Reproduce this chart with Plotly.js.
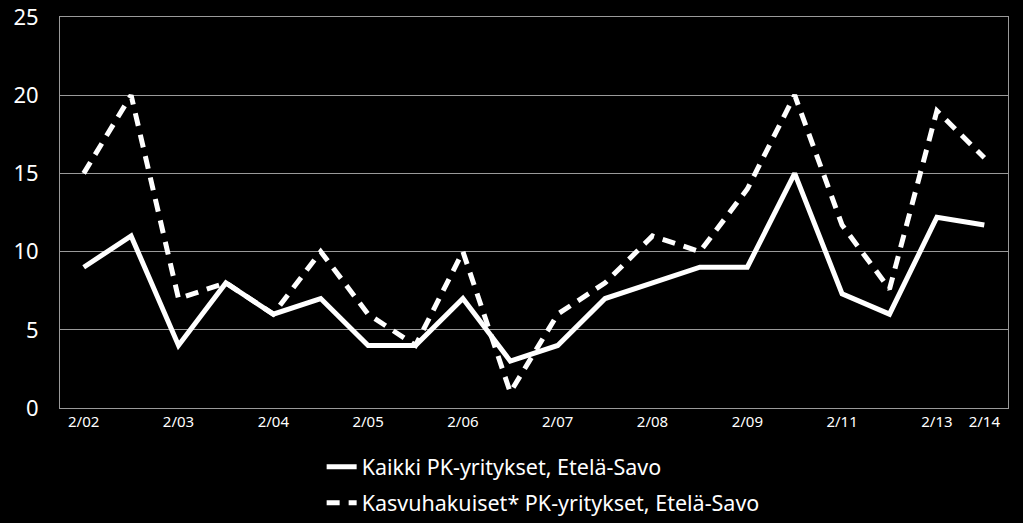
<!DOCTYPE html>
<html><head><meta charset="utf-8">
<script src="https://cdn.plot.ly/plotly-3.0.1.min.js"></script>
<style>html,body{margin:0;padding:0;background:#000;}#chart{width:1023px;height:523px;}</style>
</head><body><div id="chart"></div>
<script>
var tickLabels = ["2/02","","2/03","","2/04","","2/05","","2/06","","2/07","","2/08","","2/09","","2/11","","2/13","2/14"];
var kaikki = [9, 11, 4, 8, 6, 7, 4, 4, 7, 3, 4, 7, 8, 9, 9, 15, 7.3, 6, 12.2, 11.7];
var kasvuhakuiset = [15, 20, 7, 8, 6, 10, 6, 4, 10, 1, 6, 8, 11, 10, 14, 20, 11.7, 7.6, 19, 16];
var seriesNames = ["Kaikki PK-yritykset, Etelä-Savo", "Kasvuhakuiset* PK-yritykset, Etelä-Savo"];

var xIdx = tickLabels.map(function(_, i){ return i; });
var traces = [
  {x: xIdx, y: kaikki, name: seriesNames[0], legendgroup: 'a', type: 'scatter', mode: 'lines',
   line: {color: '#ffffff', width: 5}},
  {x: xIdx, y: kasvuhakuiset, name: seriesNames[1], legendgroup: 'b', type: 'scatter', mode: 'lines',
   line: {color: '#ffffff', width: 5, dash: '13px,9px'}}
];
var font = "Noto Sans, DejaVu Sans, sans-serif";
var layout = {
  width: 1023, height: 523,
  paper_bgcolor: '#000', plot_bgcolor: '#000',
  margin: {l: 60, r: 15, t: 17, b: 115, autoexpand: false},
  showlegend: true,
  legend: {x: 0.276, y: -0.098, xanchor: 'left', yanchor: 'top', bgcolor: 'rgba(0,0,0,0)',
    traceorder: 'grouped', tracegroupgap: 5,
    font: {family: font, size: 21.5, color: '#fff'}},
  xaxis: {range: [-0.5, 19.5], tickvals: xIdx, ticktext: tickLabels, showgrid: false,
    showline: true, linecolor: '#9a9a9a', linewidth: 1, mirror: true, ticks: '', zeroline: false,
    tickfont: {family: font, size: 15, color: '#fff'}, fixedrange: true},
  yaxis: {range: [0, 25], tickvals: [0,5,10,15,20,25], showgrid: true, gridcolor: '#9a9a9a', gridwidth: 1,
    showline: true, linecolor: '#9a9a9a', linewidth: 1, mirror: true, ticks: '', zeroline: false,
    ticklabelstandoff: 16,
    tickfont: {family: font, size: 22, color: '#fff'}, fixedrange: true}
};
Plotly.newPlot('chart', traces, layout, {displayModeBar: false, staticPlot: true});
</script></body></html>
